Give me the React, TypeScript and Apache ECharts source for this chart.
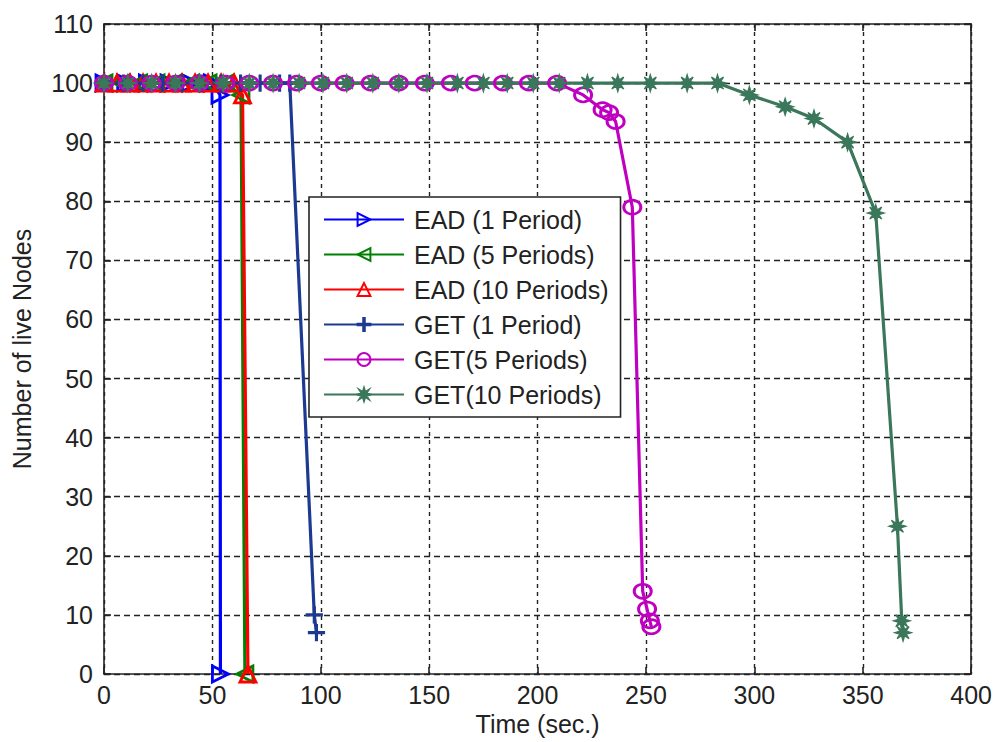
import React, { useEffect, useRef } from "react";
import * as echarts from "echarts";

// ---- Data ----
const xTicks = [0, 50, 100, 150, 200, 250, 300, 350, 400];
const yTicks = [0, 10, 20, 30, 40, 50, 60, 70, 80, 90, 100, 110];

const ead1Time = [0, 10, 20, 30, 40, 50, 53.5, 53.7];
const ead1Nodes = [100, 100, 100, 100, 100, 100, 98, 0];

const ead5Time = [0, 8, 16, 24, 32, 40, 48, 56, 63.2, 65];
const ead5Nodes = [100, 100, 100, 100, 100, 100, 100, 100, 98, 0];

const ead10Time = [0, 6, 12, 18, 24, 30, 36, 42, 48, 54, 60, 63.9, 66.4];
const ead10Nodes = [100, 100, 100, 100, 100, 100, 100, 100, 100, 100, 100, 98, 0];

const get1Time = [0, 9, 18, 27, 36, 45, 54, 63, 72, 81, 85.7, 97, 98];
const get1Nodes = [100, 100, 100, 100, 100, 100, 100, 100, 100, 100, 100, 10, 7];

const get5Time = [0, 11, 22, 33, 44, 56, 67, 78, 89, 100, 111, 123, 136, 148, 160, 171, 184, 196, 209, 221, 230, 233, 236, 243.7, 248.5, 250.5, 251.8, 252.5];
const get5Nodes = [100, 100, 100, 100, 100, 100, 100, 100, 100, 100, 100, 100, 100, 100, 100, 100, 100, 100, 100, 98, 95.5, 95, 93.5, 79, 14, 11, 9, 8];

const get10Time = [0, 11, 22, 33, 44, 55, 67, 78, 90, 101, 112, 124, 136, 149, 163, 175, 186, 198, 210, 223, 237, 252, 269, 283, 297.7, 314.2, 327.5, 343, 356, 366, 368, 368.6];
const get10Nodes = [100, 100, 100, 100, 100, 100, 100, 100, 100, 100, 100, 100, 100, 100, 100, 100, 100, 100, 100, 100, 100, 100, 100, 100, 98, 96, 94, 90, 78, 25, 9, 7];

const seriesNames = ["EAD (1 Period)", "EAD (5 Periods)", "EAD (10 Periods)", "GET (1 Period)", "GET(5 Periods)", "GET(10 Periods)"];

const zip = (xs: number[], ys: number[]) => xs.map((x, i) => [x, ys[i]]);

const FONT = "Liberation Sans, Arial, Helvetica, sans-serif";
const FS = 25;

const SYM_RIGHT = "path://M0,0 L20,10 L0,20 Z";
const SYM_LEFT = "path://M20,0 L0,10 L20,20 Z";
const SYM_UP = "path://M10,0 L20,18 L0,18 Z";
const SYM_PLUS = "path://M8.8,0 L11.2,0 L11.2,8.8 L20,8.8 L20,11.2 L11.2,11.2 L11.2,20 L8.8,20 L8.8,11.2 L0,11.2 L0,8.8 L8.8,8.8 Z";
const SYM_STAR = "path://M10 0 L11.9 6.2 L17.07 2.93 L13.8 8.1 L20 10 L13.8 11.9 L17.07 17.07 L11.9 13.8 L10 20 L8.1 13.8 L2.93 17.07 L6.2 11.9 L0 10 L6.2 8.1 L2.93 2.93 L8.1 6.2 Z";

export default function App() {
  const ref = useRef<HTMLDivElement>(null);
  useEffect(() => {
    if (!ref.current) return;
    const chart = echarts.init(ref.current, undefined, { renderer: "svg" });

    const hollow = (name: string, color: string, sym: string, size: number | number[], data: number[][]) => ({
      name,
      type: "line",
      data,
      symbol: sym,
      symbolSize: size,
      lineStyle: { color, width: 3.2 },
      itemStyle: { color: "rgba(255,255,255,0)", borderColor: color, borderWidth: 2.8 },
      emphasis: { disabled: true },
      z: 3,
    });
    const filled = (name: string, color: string, sym: string, size: number, data: number[][]) => ({
      name,
      type: "line",
      data,
      symbol: sym,
      symbolSize: size,
      lineStyle: { color, width: 3.2 },
      itemStyle: { color, borderColor: color, borderWidth: 1.2 },
      emphasis: { disabled: true },
      z: 3,
    });

    const gridLeft = 104, gridTop = 24, gridRight = 22, gridBottom = 68;

    chart.setOption({
      animation: false,
      backgroundColor: "#ffffff",
      textStyle: { fontFamily: FONT },
      grid: { left: gridLeft, top: gridTop, right: gridRight, bottom: gridBottom, containLabel: false },
      xAxis: [
        {
          type: "value",
          min: xTicks[0],
          max: xTicks[xTicks.length - 1],
          interval: 50,
          name: "Time (sec.)",
          nameLocation: "middle",
          nameGap: 36,
          nameTextStyle: { color: "#222", fontSize: FS, fontFamily: FONT },
          axisLine: { show: true, onZero: false, lineStyle: { color: "#222", width: 1.6 } },
          axisTick: { show: true, inside: true, length: 7, lineStyle: { color: "#222", width: 1.6 } },
          axisLabel: { color: "#222", fontSize: FS, fontFamily: FONT, margin: 8 },
          splitLine: { show: true, lineStyle: { color: "#222", width: 1.4, type: [4, 4] } },
        },
        {
          type: "value",
          position: "top",
          min: xTicks[0],
          max: xTicks[xTicks.length - 1],
          interval: 50,
          axisLine: { show: true, onZero: false, lineStyle: { color: "#222", width: 1.6 } },
          axisTick: { show: true, inside: true, length: 7, lineStyle: { color: "#222", width: 1.6 } },
          axisLabel: { show: false },
          splitLine: { show: false },
        },
      ],
      yAxis: [
        {
          type: "value",
          min: yTicks[0],
          max: yTicks[yTicks.length - 1],
          interval: 10,
          name: "Number of live Nodes",
          nameLocation: "middle",
          nameGap: 70,
          nameTextStyle: { color: "#222", fontSize: FS, fontFamily: FONT },
          axisLine: { show: true, onZero: false, lineStyle: { color: "#222", width: 1.6 } },
          axisTick: { show: true, inside: true, length: 7, lineStyle: { color: "#222", width: 1.6 } },
          axisLabel: { color: "#222", fontSize: FS, fontFamily: FONT, margin: 11 },
          splitLine: { show: true, lineStyle: { color: "#222", width: 1.4, type: [6, 4] } },
        },
        {
          type: "value",
          position: "right",
          min: yTicks[0],
          max: yTicks[yTicks.length - 1],
          interval: 10,
          axisLine: { show: true, onZero: false, lineStyle: { color: "#222", width: 1.6 } },
          axisTick: { show: true, inside: true, length: 7, lineStyle: { color: "#222", width: 1.6 } },
          axisLabel: { show: false },
          splitLine: { show: false },
        },
      ],
      legend: {
        show: true,
        orient: "vertical",
        left: 309,
        top: 197,
        data: seriesNames,
        backgroundColor: "#ffffff",
        borderColor: "#222",
        borderWidth: 1.6,
        borderRadius: 0,
        padding: [10, 12, 10, 14],
        itemWidth: 80,
        itemHeight: 16,
        itemGap: 10,
        selectedMode: false,
        textStyle: { color: "#222", fontSize: FS, fontFamily: FONT, lineHeight: 25, padding: [0, 0, 0, 5] },
      },
      series: [
        hollow(seriesNames[0], "#0000ff", SYM_RIGHT, 16, zip(ead1Time, ead1Nodes)),
        hollow(seriesNames[1], "#008000", SYM_LEFT, 16, zip(ead5Time, ead5Nodes)),
        hollow(seriesNames[2], "#ff0000", SYM_UP, 16, zip(ead10Time, ead10Nodes)),
        filled(seriesNames[3], "#1c3a92", SYM_PLUS, 16, zip(get1Time, get1Nodes)),
        hollow(seriesNames[4], "#c000c0", "circle", [17, 14], zip(get5Time, get5Nodes)),
        filled(seriesNames[5], "#3b775a", SYM_STAR, 17, zip(get10Time, get10Nodes)),
      ],
    });
    return () => chart.dispose();
  }, []);
  return (
    <div
      ref={ref}
      style={{ position: "fixed", left: 0, top: 0, width: 995, height: 742, background: "#fff" }}
    />
  );
}
